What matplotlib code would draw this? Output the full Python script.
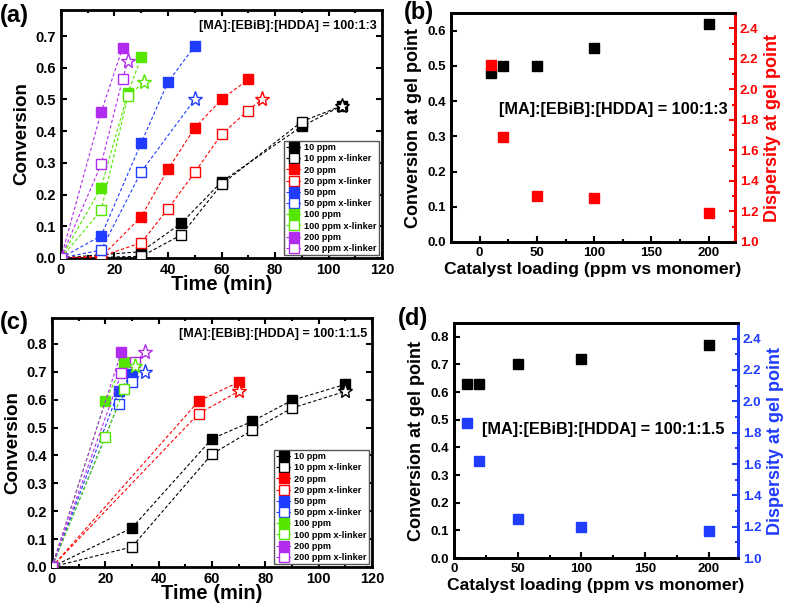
import matplotlib
matplotlib.use('Agg')
import matplotlib.pyplot as plt
from matplotlib.ticker import MultipleLocator

plt.rcParams['font.family'] = ['Liberation Sans', 'DejaVu Sans']
plt.rcParams['font.weight'] = 'bold'
plt.rcParams['axes.labelweight'] = 'bold'
plt.rcParams['axes.linewidth'] = 2.0

colors = ['black', '#ff0000', '#1f3cff', '#55e600', '#b22cf0']
labels = ['10 ppm', '20 ppm', '50 ppm', '100 ppm', '200 ppm']

# panel (a): [MA]:[EBiB]:[HDDA] = 100:1:3
a_t_full = [[0, 30, 45, 60, 90, 105],
            [0, 15, 30, 40, 50, 60, 70],
            [0, 15, 30, 40, 50],
            [0, 15, 25, 30],
            [0, 15, 23]]
a_c_full = [[0, 0.02, 0.11, 0.24, 0.415, 0.48],
            [0, 0.003, 0.13, 0.28, 0.41, 0.50, 0.563],
            [0, 0.07, 0.363, 0.555, 0.668],
            [0, 0.222, 0.52, 0.633],
            [0, 0.46, 0.662]]
a_t_xl = [[0, 30, 45, 60, 90, 105],
          [0, 15, 30, 40, 50, 60, 70, 75],
          [0, 15, 30, 50],
          [0, 15, 25, 31],
          [0, 15, 23, 25]]
a_c_xl = [[0, 0.005, 0.073, 0.232, 0.43, 0.48],
          [0, 0.005, 0.048, 0.155, 0.27, 0.39, 0.465, 0.50],
          [0, 0.025, 0.272, 0.50],
          [0, 0.15, 0.51, 0.555],
          [0, 0.295, 0.563, 0.62]]

# panel (c): [MA]:[EBiB]:[HDDA] = 100:1:1.5
c_t_full = [[0, 30, 60, 75, 90, 110],
            [0, 55, 70],
            [0, 25, 30],
            [0, 20, 27],
            [0, 26]]
c_c_full = [[0, 0.14, 0.46, 0.522, 0.598, 0.655],
            [0, 0.595, 0.663],
            [0, 0.63, 0.692],
            [0, 0.595, 0.735],
            [0, 0.77]]
c_t_xl = [[0, 30, 60, 75, 90, 110],
          [0, 55, 70],
          [0, 25, 30, 35],
          [0, 20, 27, 31],
          [0, 26, 31, 35]]
c_c_xl = [[0, 0.072, 0.405, 0.49, 0.57, 0.63],
          [0, 0.55, 0.63],
          [0, 0.585, 0.665, 0.70],
          [0, 0.465, 0.638, 0.72],
          [0, 0.695, 0.735, 0.77]]

# panels (b), (d): gel point
loading = [10, 20, 50, 100, 200]
b_conv = [0.48, 0.50, 0.50, 0.55, 0.62]
b_disp = [2.16, 1.69, 1.30, 1.29, 1.19]
d_conv = [0.63, 0.63, 0.70, 0.72, 0.77]
d_disp = [1.86, 1.62, 1.25, 1.20, 1.17]

fig = plt.figure(figsize=(7.87, 6.06), dpi=100)


def kinetics(ax, t_full, c_full, t_xl, c_xl, ylim, text):
    for i in range(5):
        ax.plot(t_full[i], c_full[i], ls=(0, (3, 2)), lw=0.8, color=colors[i],
                marker='s', ms=6.5, mfc=colors[i], mec=colors[i], label=labels[i], zorder=3)
        ax.plot(t_xl[i][:-1], c_xl[i][:-1], ls=(0, (3, 2)), lw=0.8, color=colors[i],
                marker='s', ms=6.5, mfc='white', mec=colors[i], mew=1.0,
                label=labels[i] + ' x-linker', zorder=3)
        ax.plot(t_xl[i][-2:], c_xl[i][-2:], ls=(0, (3, 2)), lw=0.8, color=colors[i], zorder=2)
        ax.plot(t_xl[i][-1], c_xl[i][-1], marker='*', ms=11, mfc='white', mec=colors[i],
                mew=1.0, ls='none', zorder=4)
    ax.set_xlim(0, 120)
    ax.set_ylim(*ylim)
    ax.xaxis.set_major_locator(MultipleLocator(20))
    ax.xaxis.set_minor_locator(MultipleLocator(10))
    ax.yaxis.set_major_locator(MultipleLocator(0.1))
    ax.tick_params(which='both', direction='in', top=True, right=True, labelsize=10.5, width=1.5)
    ax.tick_params(which='major', length=4)
    ax.tick_params(which='minor', length=2.5)
    ax.set_xlabel('Time (min)', fontsize=14.5, labelpad=-1)
    ax.set_ylabel('Conversion', fontsize=13.5, labelpad=4)
    ax.text(0.985, 0.96, text, transform=ax.transAxes, ha='right', va='top', fontsize=9,
            fontweight='bold')
    leg = ax.legend(loc='lower right', fontsize=6.6, handlelength=1.7, handletextpad=0.3,
                    labelspacing=0.24, borderpad=0.25, borderaxespad=0.3, fancybox=False,
                    edgecolor='#555555', framealpha=1)
    leg.get_frame().set_linewidth(1.0)


def gelpoint(ax, conv, disp, col, xlim, ylim, text, tx, ty):
    ax.plot(loading, conv, 's', color='black', ms=7.5, ls='none', zorder=3)
    ax2 = ax.twinx()
    ax2.plot(loading, disp, 's', color=col, ms=7.5, ls='none')
    ax.set_xlim(*xlim)
    ax.set_ylim(*ylim)
    ax2.set_ylim(1.0, 2.5)
    ax.xaxis.set_major_locator(MultipleLocator(50))
    ax.xaxis.set_minor_locator(MultipleLocator(25))
    ax.yaxis.set_major_locator(MultipleLocator(0.1))
    ax2.yaxis.set_major_locator(MultipleLocator(0.2))
    ax2.yaxis.set_minor_locator(MultipleLocator(0.1))
    ax.tick_params(which='both', direction='in', labelsize=9.5, width=1.5)
    ax.tick_params(which='major', length=4)
    ax.tick_params(which='minor', length=2.5)
    ax2.tick_params(which='both', direction='in', labelsize=9.5, width=1.5, colors=col)
    ax2.tick_params(which='major', length=4)
    ax2.tick_params(which='minor', length=2.5)
    ax2.spines['right'].set_color(col)
    ax2.spines['right'].set_linewidth(2.0)
    ax.set_xlabel('Catalyst loading (ppm vs monomer)', fontsize=12.6, labelpad=2)
    ax.set_ylabel('Conversion at gel point', fontsize=13, labelpad=4)
    ax2.set_ylabel('Dispersity at gel point', fontsize=13, color=col, labelpad=4)
    ax.text(tx, ty, text, transform=ax.transAxes, ha='left', va='center', fontsize=11.7,
            fontweight='bold')


ax_a = fig.add_axes([0.0775, 0.5743, 0.4079, 0.4092])
kinetics(ax_a, a_t_full, a_c_full, a_t_xl, a_c_xl, (0, 0.782),
         '[MA]:[EBiB]:[HDDA] = 100:1:3')

ax_c = fig.add_axes([0.066, 0.0644, 0.4067, 0.4108])
kinetics(ax_c, c_t_full, c_c_full, c_t_xl, c_c_xl, (0, 0.893),
         '[MA]:[EBiB]:[HDDA] = 100:1:1.5')

ax_b = fig.add_axes([0.573, 0.6007, 0.361, 0.3778])
gelpoint(ax_b, b_conv, b_disp, '#ff0000', (-25, 223), (0, 0.65),
         '[MA]:[EBiB]:[HDDA] = 100:1:3', 0.17, 0.58)

ax_d = fig.add_axes([0.5769, 0.0792, 0.3608, 0.3878])
gelpoint(ax_d, d_conv, d_disp, '#1f3cff', (0, 223), (0, 0.85),
         '[MA]:[EBiB]:[HDDA] = 100:1:1.5', 0.099, 0.545)

# panel letters
fig.text(0.0, 0.975, '(a)', fontsize=17, fontweight='bold', ha='left', va='center')
fig.text(0.513, 0.98, '(b)', fontsize=17, fontweight='bold', ha='left', va='center')
fig.text(0.0, 0.468, '(c)', fontsize=17, fontweight='bold', ha='left', va='center')
fig.text(0.506, 0.474, '(d)', fontsize=17, fontweight='bold', ha='left', va='center')

fig.savefig('out.png', dpi=100)
